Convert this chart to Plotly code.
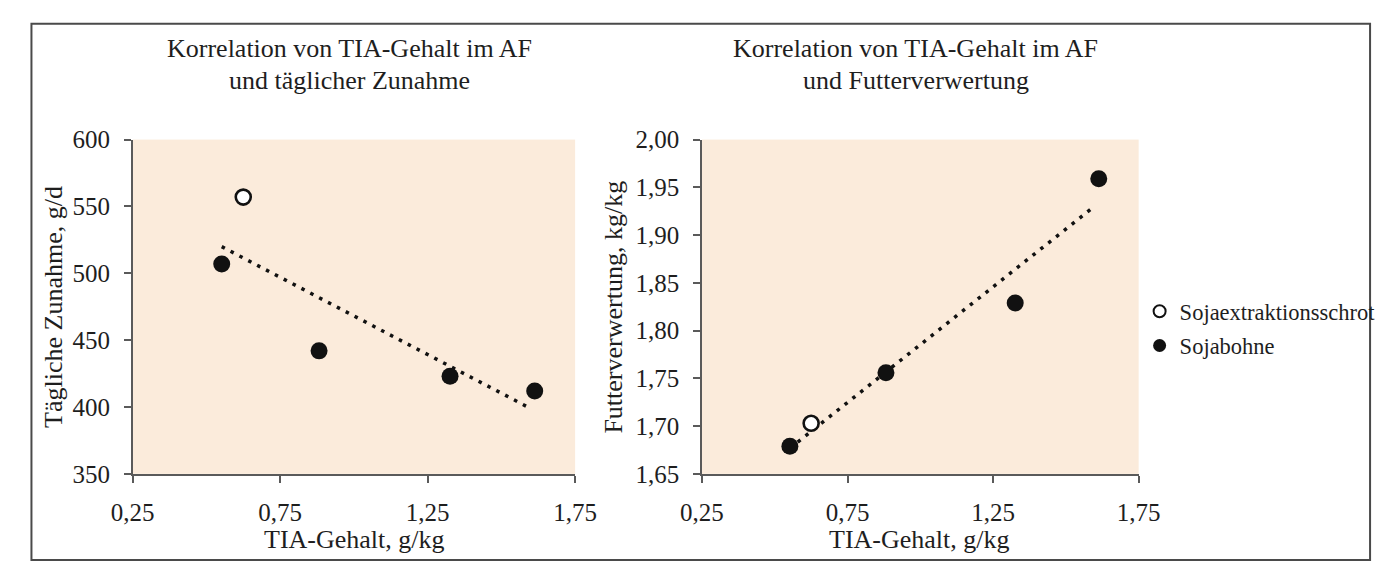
import numpy as np
import plotly.graph_objects as go

# ---------------- data ----------------
tia = [0.552, 0.625, 0.882, 1.326, 1.613]          # TIA-Gehalt, g/kg
zunahme = [507, 557, 442, 423, 412]                # Tägliche Zunahme, g/d
futter = [1.679, 1.703, 1.756, 1.829, 1.959]       # Futterverwertung, kg/kg
is_ses = [False, True, False, False, False]        # Sojaextraktionsschrot?
trend_end = 1.59                                   # where the dotted trend line stops

series_names = ["Sojaextraktionsschrot", "Sojabohne"]
title_left = ["Korrelation von TIA-Gehalt im AF", "und täglicher Zunahme"]
title_right = ["Korrelation von TIA-Gehalt im AF", "und Futterverwertung"]
xlabel = "TIA-Gehalt, g/kg"
ylabel_left = "Tägliche Zunahme, g/d"
ylabel_right = "Futterverwertung, kg/kg"
x_ticks = [0.25, 0.75, 1.25, 1.75]
y_ticks_left = [350, 400, 450, 500, 550, 600]
y_ticks_right = [1.65, 1.70, 1.75, 1.80, 1.85, 1.90, 1.95, 2.00]

FONT = "Liberation Serif"
BG = "#FBEBDB"
AX = "#5a5a5a"
TXT = "#1e1e1e"
OFF = 8                 # page body margin
W, H = 1386, 568        # figure reaches the right / bottom edge of the 1394x576 window

def px_x(t):
    return (t - OFF) / W

def px_y(t):
    return 1 - (t - OFF) / H

fig = go.Figure()

dom_left = [px_x(114), px_x(571)]
dom_right = [px_x(702), px_x(1153)]
dom_y = [px_y(483.5), px_y(132.5)]

def add_panel(yvals, xa, ya):
    xs = np.array(tia)
    ys = np.array(yvals)
    k, d = np.polyfit(xs, ys, 1)
    xl = np.array([xs.min(), trend_end])
    fig.add_trace(go.Scatter(x=xl, y=k * xl + d, mode="lines",
                             line=dict(color="#111", width=3.5, dash="3.5px,6.5px"),
                             showlegend=False, hoverinfo="skip",
                             xaxis=xa, yaxis=ya))
    filled_x = [x for x, s in zip(tia, is_ses) if not s]
    filled_y = [y for y, s in zip(yvals, is_ses) if not s]
    open_x = [x for x, s in zip(tia, is_ses) if s]
    open_y = [y for y, s in zip(yvals, is_ses) if s]
    fig.add_trace(go.Scatter(x=filled_x, y=filled_y, mode="markers",
                             marker=dict(size=17, color="#111"),
                             showlegend=False, xaxis=xa, yaxis=ya))
    fig.add_trace(go.Scatter(x=open_x, y=open_y, mode="markers",
                             marker=dict(size=15, color="white",
                                         line=dict(color="#111", width=2.6)),
                             showlegend=False, xaxis=xa, yaxis=ya))

add_panel(zunahme, "x", "y")
add_panel(futter, "x2", "y2")

# legend-only traces
fig.add_trace(go.Scatter(x=[None], y=[None], mode="markers", name=series_names[0],
                         legendgroup="a",
                         marker=dict(size=12, color="white",
                                     line=dict(color="#111", width=2))))
fig.add_trace(go.Scatter(x=[None], y=[None], mode="markers", name=series_names[1],
                         legendgroup="b",
                         marker=dict(size=13, color="#111")))

axis_common = dict(showline=True, linecolor=AX, linewidth=1.5, ticks="outside",
                   ticklen=7, tickcolor=AX, tickwidth=1.5, showgrid=False,
                   zeroline=False, tickfont=dict(family=FONT, size=25, color=TXT),
                   mirror=False)

fig.update_layout(
    width=W, height=H,
    margin=dict(l=0, r=0, t=0, b=0),
    paper_bgcolor="white", plot_bgcolor=BG,
    separators=",.",
    font=dict(family=FONT, color=TXT),
    xaxis=dict(domain=dom_left, range=[0.25, 1.75], tickvals=x_ticks,
               tickformat=".2f", anchor="y", ticklabelstandoff=8, **axis_common),
    yaxis=dict(domain=dom_y, range=[350, 600], tickvals=y_ticks_left,
               tickformat="d", anchor="x", ticklabelstandoff=9, **axis_common),
    xaxis2=dict(domain=dom_right, range=[0.25, 1.75], tickvals=x_ticks,
                tickformat=".2f", anchor="y2", ticklabelstandoff=8, **axis_common),
    yaxis2=dict(domain=dom_y, range=[1.65, 2.00], tickvals=y_ticks_right,
                tickformat=".2f", anchor="x2", ticklabelstandoff=9, **axis_common),
    legend=dict(x=px_x(1154), y=px_y(331), xanchor="left", yanchor="middle",
                font=dict(family=FONT, size=22.5, color=TXT),
                bgcolor="rgba(0,0,0,0)", itemwidth=30, tracegroupgap=2),
    showlegend=True,
)

ann = []
def text(x, y, s, size, angle=0):
    ann.append(dict(x=px_x(x), y=px_y(y), xref="paper", yref="paper", text=s,
                    showarrow=False, textangle=angle, xanchor="center",
                    yanchor="middle", font=dict(family=FONT, size=size, color=TXT)))

text(338, 37, title_left[0], 26)
text(338, 70, title_left[1], 26)
text(923, 37, title_right[0], 26)
text(923, 70, title_right[1], 26)
text(343, 552, xlabel, 26)
text(927, 552, xlabel, 26)
text(33, 308, ylabel_left, 26, -90)
text(611, 308, ylabel_right, 26, -90)
fig.update_layout(annotations=ann)

fig.add_shape(type="rect", xref="paper", yref="paper",
              x0=px_x(9.5), x1=px_x(1392), y0=px_y(574), y1=px_y(11),
              line=dict(color="#4a4a4a", width=2), fillcolor="rgba(0,0,0,0)")

fig.write_html("out.html")
